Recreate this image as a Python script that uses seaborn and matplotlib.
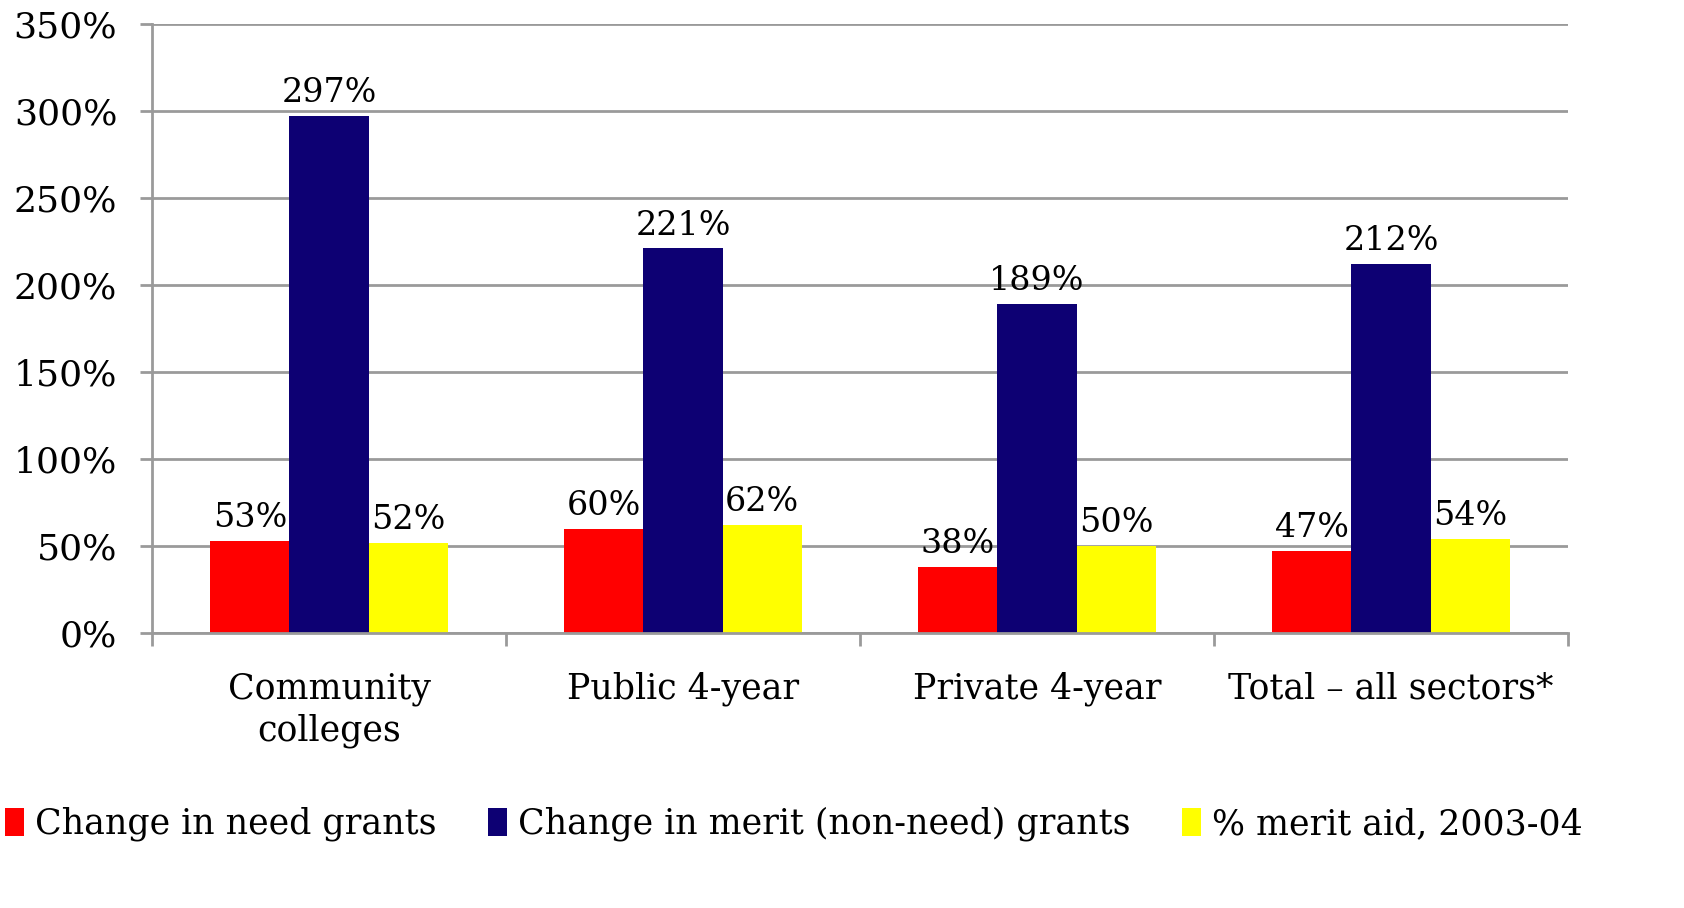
import pandas as pd
import seaborn as sns
import matplotlib.pyplot as plt
from matplotlib.patches import Patch

# Data
sectors = ["Community\ncolleges", "Public 4-year", "Private 4-year", "Total \u2013 all sectors*"]
need_change = [53, 60, 38, 47]
merit_change = [297, 221, 189, 212]
merit_share = [52, 62, 50, 54]
series_names = ["Change in need grants", "Change in merit (non-need) grants", "% merit aid, 2003-04"]
colors = ["#ff0000", "#0d0073", "#ffff00"]
y_ticks = [0, 50, 100, 150, 200, 250, 300, 350]

df = pd.DataFrame({
    "sector": sectors * 3,
    "series": [series_names[0]] * 4 + [series_names[1]] * 4 + [series_names[2]] * 4,
    "value": need_change + merit_change + merit_share,
})

sns.set_style("white")
plt.rcParams["font.family"] = ["DejaVu Serif"]
plt.rcParams["text.color"] = "black"
plt.rcParams["xtick.labelcolor"] = "black"
plt.rcParams["ytick.labelcolor"] = "black"
grid_col = "#9a9a9a"

fig = plt.figure(figsize=(16.84, 9.08), dpi=100)
ax = fig.add_axes([152 / 1684, 1 - 633 / 908, (1568 - 152) / 1684, (633 - 24) / 908])

sns.barplot(data=df, x="sector", y="value", hue="series", palette=colors,
            width=0.67, saturation=1, ax=ax, legend=False, edgecolor="none")

for cont in ax.containers:
    ax.bar_label(cont, fmt="%d%%", fontsize=24, padding=5, color="black")

ax.set_ylim(0, 350)
ax.set_xlim(-0.5, 3.5)
ax.set_yticks(y_ticks)
ax.set_yticklabels([f"{v}%" for v in y_ticks], fontsize=26, color="black")
ax.yaxis.grid(True, color=grid_col, lw=2)
ax.set_axisbelow(True)
ax.tick_params(axis="y", length=9, width=2, color=grid_col, pad=16, left=True)

ax.set_xticks(range(4))
ax.set_xticklabels(sectors, fontsize=25, linespacing=1.3, color="black")
ax.tick_params(axis="x", which="major", length=0, pad=28)
ax.set_xticks([-0.5, 0.5, 1.5, 2.5, 3.5], minor=True)
ax.tick_params(axis="x", which="minor", length=9, width=2, color=grid_col, bottom=True)
ax.set_xlabel("")
ax.set_ylabel("")

for side in ["top", "right"]:
    ax.spines[side].set_visible(False)
for side in ["left", "bottom"]:
    ax.spines[side].set_color(grid_col)
    ax.spines[side].set_linewidth(2)

handles = [Patch(facecolor=c, edgecolor="none") for c in colors]
leg = fig.legend(handles, series_names, loc="center left", bbox_to_anchor=(0.003, 1 - 824 / 908),
                 ncol=3, frameon=False, fontsize=25, handlelength=0.55, handleheight=0.85,
                 handletextpad=0.3, columnspacing=1.5, borderaxespad=0, borderpad=0)
for t in leg.get_texts():
    t.set_color("black")

fig.savefig("out.png", dpi=100)
